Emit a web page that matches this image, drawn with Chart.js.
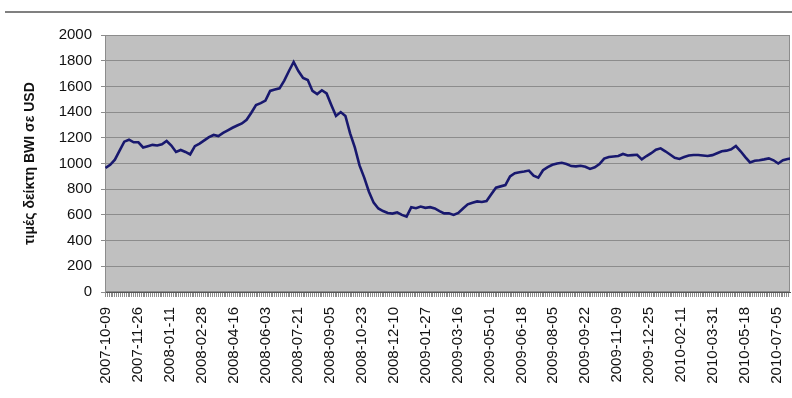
<!DOCTYPE html>
<html>
<head>
<meta charset="utf-8">
<script src="https://cdn.jsdelivr.net/npm/chart.js@4"></script>
<style>
  html, body { margin: 0; padding: 0; background: #fff; }
  #wrap { width: 792px; height: 398px; }
</style>
</head>
<body>
<div id="wrap"><canvas id="bwi" width="792" height="398"></canvas></div>
<script>
// tick labels, one every 34 trading days
var dates = ['2007-10-09', '2007-11-26', '2008-01-11', '2008-02-28', '2008-04-16', '2008-06-03',
             '2008-07-21', '2008-09-05', '2008-10-23', '2008-12-10', '2009-01-27', '2009-03-16',
             '2009-05-01', '2009-06-18', '2009-08-05', '2009-09-22', '2009-11-09', '2009-12-25',
             '2010-02-11', '2010-03-31', '2010-05-18', '2010-07-05'];

// weekly closing level of the index (every 5th trading day)
var bwiWeekly = [
   965,  990, 1030, 1100, 1170, 1185, 1165, 1165, 1125, 1135,
  1145, 1140, 1150, 1175, 1140, 1090, 1105, 1090, 1070, 1135,
  1155, 1180, 1205, 1222, 1214, 1238, 1258, 1278, 1296, 1312,
  1340, 1395, 1455, 1470, 1490, 1565, 1575, 1585, 1645, 1720,
  1790, 1720, 1665, 1650, 1565, 1540, 1570, 1545, 1455, 1370,
  1400, 1370, 1235, 1125,  985,  890,  780,  695,  650,  630,
   615,  610,  620,  600,  586,  660,  652,  665,  655,  660,
   650,  630,  612,  612,  600,  615,  650,  682,  695,  705,
   700,  708,  760,  812,  822,  832,  900,  925,  932,  938,
   945,  905,  890,  948,  972,  990, 1000, 1006,  996,  980,
   978,  982,  975,  958,  970,  995, 1038, 1050, 1055, 1058,
  1074, 1062, 1065, 1068, 1032, 1058, 1080, 1108, 1118, 1095,
  1070, 1045, 1035, 1050, 1062, 1066, 1066, 1062, 1058, 1065,
  1080, 1095, 1100, 1110, 1136, 1095, 1050, 1008, 1022, 1025,
  1032, 1040, 1025, 1000, 1025, 1035, 1040
];

var yTicks = [0, 200, 400, 600, 800, 1000, 1200, 1400, 1600, 1800, 2000];

var STEP = 5;          // trading days between two weekly values
var LABEL_EVERY = 34;  // trading days between two date labels
var LAST_DAY = 727;

var points = bwiWeekly.map(function (v, k) { return { x: k * STEP, y: v }; });

var FONT = "'Liberation Sans', Arial, sans-serif";

// grey plot area, its frame and the rule above the chart
var backdrop = {
  id: 'backdrop',
  beforeDraw: function (chart) {
    var ctx = chart.ctx, a = chart.chartArea;
    ctx.save();
    ctx.fillStyle = '#fff';
    ctx.fillRect(0, 0, chart.width, chart.height);
    ctx.strokeStyle = '#808080';
    ctx.lineWidth = 2;
    ctx.beginPath();
    ctx.moveTo(5, 12);
    ctx.lineTo(chart.width, 12);
    ctx.stroke();
    ctx.fillStyle = '#c0c0c0';
    ctx.fillRect(a.left, a.top, a.right - a.left, a.bottom - a.top);
    ctx.strokeStyle = '#8c8c8c';
    ctx.lineWidth = 1;
    ctx.strokeRect(a.left + 0.5, a.top + 0.5, a.right - a.left - 1, a.bottom - a.top - 1);
    ctx.restore();
  }
};

var ctx = document.getElementById('bwi').getContext('2d');
var chart = new Chart(ctx, {
  type: 'line',
  data: {
    datasets: [{
      label: 'BWI',
      data: points,
      borderColor: '#18186e',
      borderWidth: 2.6,
      pointRadius: 0,
      tension: 0,
      fill: false
    }]
  },
  options: {
    responsive: false,
    animation: false,
    layout: { padding: { top: 35, left: 22, right: 2, bottom: 0 } },
    plugins: { legend: { display: false }, tooltip: { enabled: false } },
    scales: {
      x: {
        type: 'linear',
        min: -0.5,
        max: LAST_DAY + 0.5,
        afterBuildTicks: function (scale) {
          var t = [];
          for (var i = 0; i <= LAST_DAY; i += 2) t.push({ value: i });
          scale.ticks = t;
        },
        afterFit: function (scale) {
          scale.height = 106;
          scale.paddingLeft = 0;
          scale.paddingRight = 0;
        },
        grid: { drawOnChartArea: false, tickLength: 5, color: '#8c8c8c' },
        border: { color: '#555', width: 1 },
        ticks: {
          autoSkip: false,
          minRotation: 90,
          maxRotation: 90,
          padding: 10,
          color: '#111',
          font: { family: FONT, size: 15 },
          callback: function (v) {
            return v % LABEL_EVERY === 0 ? dates[v / LABEL_EVERY] : '';
          }
        }
      },
      y: {
        min: 0,
        max: 2000,
        afterBuildTicks: function (scale) {
          scale.ticks = yTicks.map(function (v) { return { value: v }; });
        },
        afterFit: function (scale) { scale.width = 83; },
        grid: { color: '#8c8c8c', tickLength: 4 },
        border: { color: '#8c8c8c' },
        ticks: {
          padding: 9,
          color: '#111',
          font: { family: FONT, size: 15 },
          callback: function (v) { return String(v); }
        },
        title: {
          display: true,
          text: 'τιμές δείκτη BWI σε USD',
          color: '#111',
          padding: 0,
          font: { family: FONT, size: 14, weight: 'bold' }
        }
      }
    }
  },
  plugins: [backdrop]
});
</script>
</body>
</html>
